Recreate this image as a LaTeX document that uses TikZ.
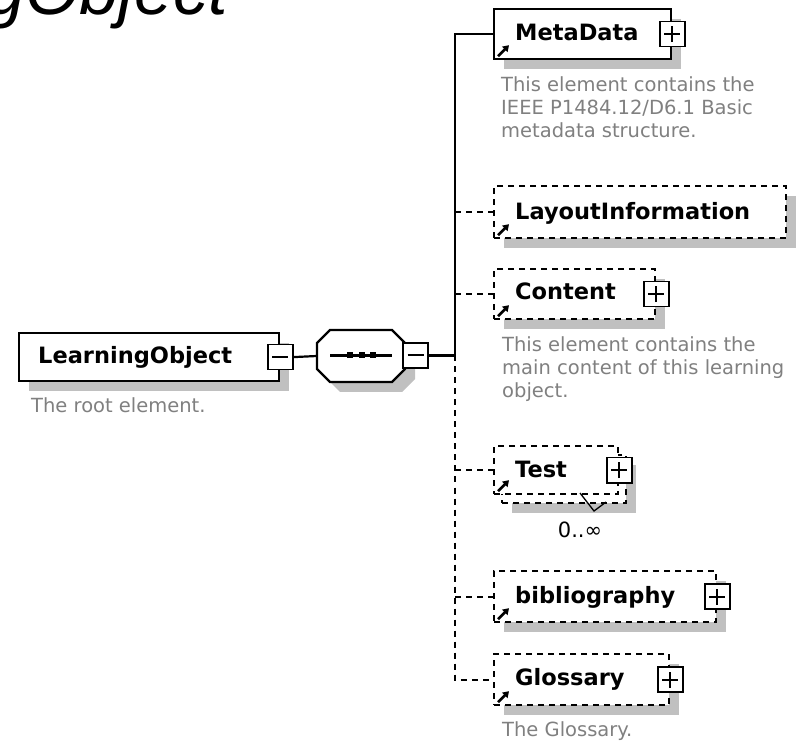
\documentclass[tikz,border=0pt]{standalone}
\usepackage{fontspec}
\setmainfont{DejaVu Sans}
\newfontfamily\titlefont{Liberation Sans}
\usetikzlibrary{shadows,arrows.meta}
\definecolor{shadowgray}{RGB}{192,192,192}
\definecolor{descgray}{RGB}{128,128,128}
\newcommand\plussign[1]{\draw[pmsign] ([xshift=-8pt]#1.center) -- ([xshift=8pt]#1.center) ([yshift=-8pt]#1.center) -- ([yshift=8pt]#1.center);}
\newcommand\minussign[1]{\draw[pmsign] ([xshift=-8pt]#1.center) -- ([xshift=8pt]#1.center);}
\begin{document}
\begin{tikzpicture}[x=1pt,y=-1pt,
  elembox/.style={draw, line width=2.2pt, fill=white, inner sep=0pt, minimum height=50pt, anchor=north west,
    drop shadow={shadow xshift=10pt, shadow yshift=-10pt, fill=shadowgray, opacity=1}},
  optbox/.style={elembox, dash pattern=on 6pt off 5pt},
  pmbox/.style={draw, line width=1.8pt, fill=white, minimum size=25pt, inner sep=0pt},
  pmsign/.style={line width=2pt},
  conn/.style={line width=2.2pt},
  dconn/.style={line width=2.2pt, dash pattern=on 6pt off 5pt},
  elemname/.style={font=\bfseries\fontsize{22.5}{27}\selectfont, anchor=base west, inner sep=0pt},
  desc/.style={font=\fontsize{19.5}{23}\selectfont, text=descgray, anchor=base west, inner sep=0pt},
  refarrow/.style={line width=2.6pt, -{Triangle[length=6pt,width=7.5pt]}},
]
\useasboundingbox (0,0) rectangle (812,743);
\clip (0,0) rectangle (812,743);
\fill[white] (0,0) rectangle (812,743);

% title (cut off at the top)
\node[font=\titlefont\itshape\fontsize{70}{80}\selectfont, anchor=base east, inner sep=0pt] (title) at (228,15) {gObject};

% root element
\node[elembox, minimum width=260pt, minimum height=48pt] (lo) at (18,332) {};
\node[elemname] (lot) at (38,364) {LearningObject};
\node[pmbox] (lom) at (lo.east) {};
\minussign{lom}
\node[desc] (lod) at (31,413) {The root element.};

% sequence compositor
\node[inner sep=0pt, minimum width=88pt, minimum height=52pt] (seq) at (361,356) {};
\fill[shadowgray] (340,340) -- (402,340) -- (415,353) -- (415,379) -- (402,392) -- (340,392) -- (327,379) -- (327,353) -- cycle;
\draw[conn, fill=white] (330,330) -- (392,330) -- (405,343) -- (405,369) -- (392,382) -- (330,382) -- (317,369) -- (317,343) -- cycle;
\draw[conn] (330,355.5) -- (392,355.5);
\fill (347,352.5) rectangle (353,358.5);
\fill (358.5,352.5) rectangle (364.5,358.5);
\fill (370,352.5) rectangle (376,358.5);
\node[pmbox] (sqm) at (415.5,355.5) {};
\minussign{sqm}

\draw[conn] (lom.east) -- (seq.west);
\coordinate (trunk) at (455,355.5);
\draw[conn] (sqm.east) -- (trunk);

% MetaData
\node[elembox, minimum width=177pt] (md) at (493,8) {};
\node[elemname] (mdt) at (515,41) {MetaData};
\node[pmbox] (mdp) at (md.east) {};
\plussign{mdp}
\draw[refarrow] ([shift={(5,-4)}]md.south west) -- ++(11,-11);
\node[desc] (mdd1) at (501,92) {This element contains the};
\node[desc] (mdd2) at (501,115) {IEEE P1484.12/D6.1 Basic};
\node[desc] (mdd3) at (501,138) {metadata structure.};

% LayoutInformation
\node[optbox, minimum width=292pt, minimum height=52pt] (li) at (493,185) {};
\node[elemname] (lit) at (515,220) {LayoutInformation};
\draw[refarrow] ([shift={(5,-4)}]li.south west) -- ++(11,-11);

% Content
\node[optbox, minimum width=161pt] (ct) at (493,268) {};
\node[elemname] (ctt) at (515,300) {Content};
\node[pmbox] (ctp) at (ct.east) {};
\plussign{ctp}
\draw[refarrow] ([shift={(5,-4)}]ct.south west) -- ++(11,-11);
\node[desc] (ctd1) at (502,352) {This element contains the};
\node[desc] (ctd2) at (502,375) {main content of this learning};
\node[desc] (ctd3) at (502,398) {object.};

% Test (repeating)
\node[optbox, minimum width=124pt, minimum height=48pt] (tsb) at (501,454) {};
\node[draw, line width=2.2pt, dash pattern=on 6pt off 5pt, fill=white, inner sep=0pt, minimum width=124pt, minimum height=48pt, anchor=north west] (ts) at (493,445) {};
\node[elemname] (tst) at (515,478) {Test};
\node[pmbox] (tsp) at (ts.east) {};
\plussign{tsp}
\draw[refarrow] ([shift={(5,-4)}]ts.south west) -- ++(11,-11);
\draw[line width=1.3pt] (580,493) -- (594,511) -- (606,502);
\node[font=\fontsize{21}{25}\selectfont, anchor=base, inner sep=0pt] (tsm) at (580,537) {0..∞};

% bibliography
\node[optbox, minimum width=222pt, minimum height=51pt] (bb) at (493,570) {};
\node[elemname] (bbt) at (515,603) {bibliography};
\node[pmbox] (bbp) at (bb.east) {};
\plussign{bbp}
\draw[refarrow] ([shift={(5,-4)}]bb.south west) -- ++(11,-11);

% Glossary
\node[optbox, minimum width=175pt, minimum height=51pt] (gl) at (493,653) {};
\node[elemname] (glt) at (515,685) {Glossary};
\node[pmbox] (glp) at (gl.east) {};
\plussign{glp}
\draw[refarrow] ([shift={(5,-4)}]gl.south west) -- ++(11,-11);
\node[desc] (gld) at (502,736) {The Glossary.};

% connectors
\draw[conn] (md.west) -| (trunk);
\draw[dconn] (trunk) |- (gl.west);
\draw[dconn] (li.west -| trunk) -- (li.west);
\draw[dconn] (ct.west -| trunk) -- (ct.west);
\draw[dconn] (ts.west -| trunk) -- (ts.west);
\draw[dconn] (bb.west -| trunk) -- (bb.west);
\end{tikzpicture}
\end{document}
